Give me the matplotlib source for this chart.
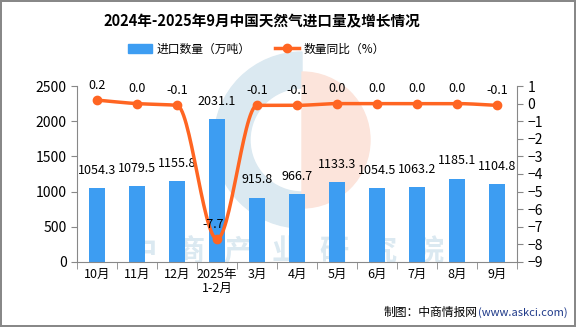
import numpy as np
import matplotlib.pyplot as plt
from matplotlib.patches import Wedge
from matplotlib.lines import Line2D
from matplotlib.patches import Patch

plt.rcParams['font.family'] = ['Noto Sans CJK SC', 'DejaVu Sans']

# data
months = ['10月', '11月', '12月', '2025年\n1-2月', '3月', '4月', '5月', '6月', '7月', '8月', '9月']
volume = [1054.3, 1079.5, 1155.8, 2031.1, 915.8, 966.7, 1133.3, 1054.5, 1063.2, 1185.1, 1104.8]
growth = [0.2, 0.0, -0.1, -7.7, -0.1, -0.1, 0.0, 0.0, 0.0, 0.0, -0.1]

bar_color = '#3d9df2'
line_color = '#ff6522'


def smooth(x, y, n=30):
    # monotone cubic (Fritsch-Carlson) curve through the points, only for drawing
    x = np.asarray(x, float)
    y = np.asarray(y, float)
    h = np.diff(x)
    d = np.diff(y) / h
    m = np.zeros_like(y)
    m[0], m[-1] = d[0], d[-1]
    for i in range(1, len(y) - 1):
        if d[i - 1] * d[i] <= 0:
            m[i] = 0
        else:
            m[i] = 2 / (1 / d[i - 1] + 1 / d[i])
    xs, ys = [], []
    t = np.linspace(0, 1, n, endpoint=False)
    for i in range(len(x) - 1):
        h00 = 2 * t ** 3 - 3 * t ** 2 + 1
        h10 = t ** 3 - 2 * t ** 2 + t
        h01 = -2 * t ** 3 + 3 * t ** 2
        h11 = t ** 3 - t ** 2
        xs.extend(x[i] + t * h[i])
        ys.extend(h00 * y[i] + h10 * h[i] * m[i] + h01 * y[i + 1] + h11 * h[i] * m[i + 1])
    xs.append(x[-1])
    ys.append(y[-1])
    return np.array(xs), np.array(ys)


fig = plt.figure(figsize=(5.76, 3.27), dpi=100)
fig.patch.set_edgecolor('#888888')
fig.patch.set_linewidth(1.5)

# watermark
wm = fig.add_axes([0, 0, 1, 1], zorder=0)
wm.set_xlim(0, 576)
wm.set_ylim(327, 0)
wm.axis('off')
wm.add_patch(Wedge((302, 140), 88, 90, 270, width=36, color='#dbe9f1'))
wm.add_patch(Wedge((302, 140), 68, 270, 90, color='#fce4db'))
for i, ch in enumerate('中商产业研究院'):
    wm.text(142 + 48 * i, 251, ch, fontsize=21, color='#dbe9f1', ha='center', va='center',
            fontweight='bold')

ax = fig.add_axes([0.1337, 0.1988, 0.7639, 0.5382], zorder=1)
ax.patch.set_alpha(0)
x = np.arange(len(months))
ax.bar(x, volume, width=0.4, color=bar_color, zorder=2)
ax.set_ylim(0, 2500)
ax.set_xlim(-0.5, len(months) - 0.5)
ax.set_yticks(range(0, 2501, 500))
ax.set_xticks(x)
ax.set_xticklabels(months, fontsize=9, linespacing=1.1)
ax.set_xticks(np.arange(-0.5, len(months), 1), minor=True)
ax.tick_params(axis='x', which='major', length=0, pad=4)
ax.tick_params(axis='x', which='minor', length=5, color='#888888')
ax.tick_params(axis='y', labelsize=10, length=4, color='#888888')
for s in ['top', 'right']:
    ax.spines[s].set_visible(False)
for s in ['left', 'bottom']:
    ax.spines[s].set_color('#888888')

for xi, v in zip(x, volume):
    ax.annotate(f'{v:.1f}', (xi, v), xytext=(0, 8), textcoords='offset points',
                ha='center', va='bottom', fontsize=9)

ax2 = ax.twinx()
ax2.set_ylim(-9, 1)
ax2.set_yticks(range(-9, 2))
ax2.tick_params(axis='y', labelsize=10, length=4, color='#888888')
for s in ['top', 'left', 'bottom']:
    ax2.spines[s].set_visible(False)
ax2.spines['right'].set_color('#888888')
sx, sy = smooth(x, growth)
ax2.plot(sx, sy, color=line_color, lw=2.5, zorder=3)
ax2.plot(x, growth, 'o', color=line_color, ms=6, zorder=4)
for xi, g in zip(x, growth):
    dx = -3 if g < -1 else 0
    ax2.annotate(f'{g:.1f}', (xi, g), xytext=(dx, 6), textcoords='offset points',
                 ha='center', va='bottom', fontsize=9)

fig.text(0.455, 0.935, '2024年-2025年9月中国天然气进口量及增长情况', ha='center', va='center',
         fontsize=10.5, fontweight='bold')
handles = [Patch(color=bar_color),
           Line2D([], [], color=line_color, lw=2.5, marker='o', ms=6)]
fig.legend(handles, ['进口数量（万吨）', '数量同比（%）'], loc='center', bbox_to_anchor=(0.445, 0.85),
           ncol=2, frameon=False, fontsize=8.5, handlelength=2.0, handletextpad=0.4,
           columnspacing=2.1)

url = fig.text(0.985, 0.045, '(www.askci.com)', ha='right', va='center', fontsize=8,
               color='#1f3a8a')
ax.annotate('制图：中商情报网', xy=(0, 0.5), xycoords=url, ha='right', va='center', fontsize=8.5)

fig.savefig('out.png', dpi=100, edgecolor=fig.get_edgecolor())
